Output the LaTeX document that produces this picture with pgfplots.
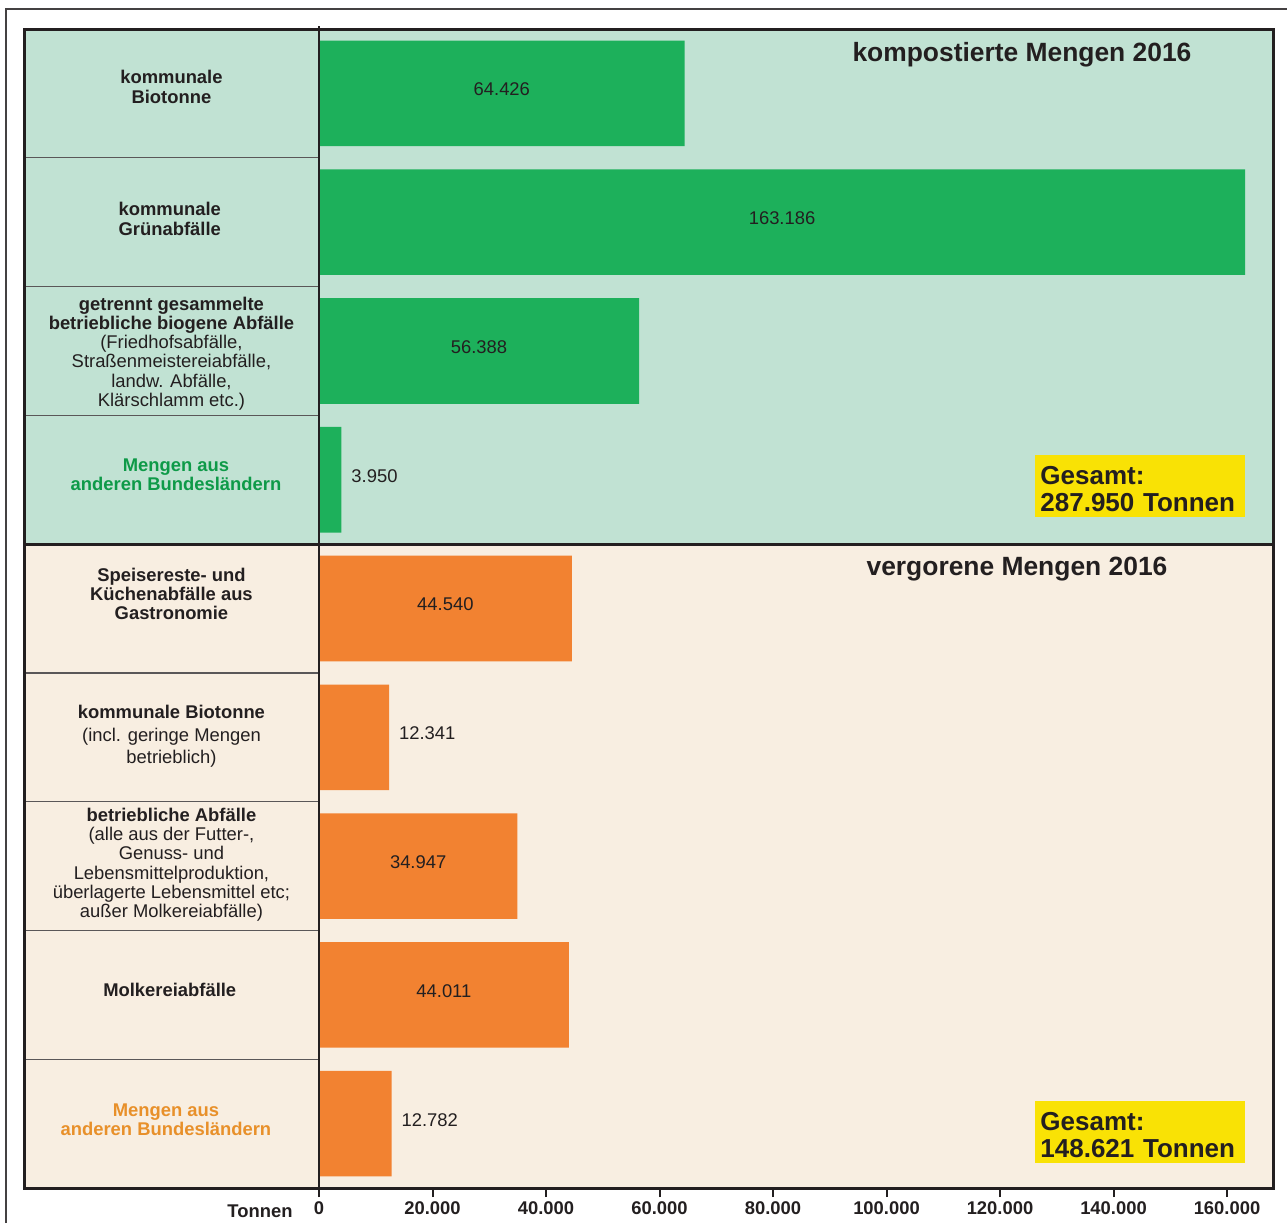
\documentclass[border=0pt]{standalone}
\usepackage{pgfplots}
\pgfplotsset{compat=1.18}
\usepackage{fontspec}
\setmainfont{Liberation Sans}
\definecolor{mint}{HTML}{C1E2D3}
\definecolor{cream}{HTML}{F8EEE1}
\definecolor{barG}{HTML}{1DB05B}
\definecolor{barO}{HTML}{F28231}
\definecolor{gelb}{HTML}{F9E205}
\definecolor{ink}{HTML}{231F20}
\definecolor{txtG}{HTML}{0E9A48}
\definecolor{txtO}{HTML}{E8902A}
\tikzset{
  lab/.style={align=center, font=\fontsize{9.2}{9.6}\selectfont, text=ink},
  val/.style={font=\fontsize{9.2}{11}\selectfont, text=ink},
  tot/.style={fill=gelb, anchor=north west, minimum height=31pt, text width=100pt, text height=11.5pt, inner xsep=2.5pt, inner ysep=2pt, align=left, font=\fontsize{13}{13.5}\selectfont\bfseries, text=ink},
}
\begin{document}
\begin{tikzpicture}
\useasboundingbox (0,0) rectangle (643.5pt,611.5pt);
\fill[white] (0,0) rectangle (643.5pt,611.5pt);
\draw[ink!85, line width=1pt] (3pt,0) -- (3pt,607pt) -- (643.5pt,607pt);
\begin{axis}[
  at={(12.5pt,17.5pt)}, anchor=south west,
  width=624pt, height=579.5pt, scale only axis,
  xmin=-51806, xmax=168104, ymin=-0.5, ymax=8.5, y dir=reverse,
  axis on top, clip=false,
  axis line style={ink, line width=1.5pt},
  ytick=\empty,
  xtick={0,20000,40000,60000,80000,100000,120000,140000,160000},
  xticklabels={0,20.000,40.000,60.000,80.000,100.000,120.000,140.000,160.000},
  xtick pos=bottom, tick align=outside, major tick length=4.5pt,
  every tick/.append style={ink, line width=1pt},
  xticklabel style={font=\fontsize{9.2}{11}\selectfont\bfseries, text=ink, inner sep=1pt, yshift=-1.2pt},
]
\fill[mint] (axis cs:-51806,-0.5) rectangle (axis cs:168104,3.5);
\fill[cream] (axis cs:-51806,3.5) rectangle (axis cs:168104,8.5);
\draw[ink!75, line width=0.6pt] (axis cs:-51806,0.5) -- (axis cs:0,0.5);
\draw[ink!75, line width=0.6pt] (axis cs:-51806,1.5) -- (axis cs:0,1.5);
\draw[ink!75, line width=0.6pt] (axis cs:-51806,2.5) -- (axis cs:0,2.5);
\draw[ink!75, line width=0.6pt] (axis cs:-51806,4.5) -- (axis cs:0,4.5);
\draw[ink!75, line width=0.6pt] (axis cs:-51806,5.5) -- (axis cs:0,5.5);
\draw[ink!75, line width=0.6pt] (axis cs:-51806,6.5) -- (axis cs:0,6.5);
\draw[ink!75, line width=0.6pt] (axis cs:-51806,7.5) -- (axis cs:0,7.5);

\addplot[xbar, fill=barG, draw=none, bar width=0.82] coordinates {(64426,0) (163186,1) (56388,2) (3950,3)};
\addplot[xbar, fill=barO, draw=none, bar width=0.82] coordinates {(44540,4) (12341,5) (34947,6) (44011,7) (12782,8)};

\draw[ink, line width=1.5pt] (axis cs:-51806,3.5) -- (axis cs:168104,3.5);
\draw[ink, line width=1pt] ([yshift=1.5pt]axis cs:0,-0.5) -- (axis cs:0,8.5);

% value labels
\node[val] at (axis cs:32213,-0.03) {64.426};
\node[val] at (axis cs:81593,0.97) {163.186};
\node[val] at (axis cs:28194,1.97) {56.388};
\node[val, anchor=west, xshift=1.5pt] at (axis cs:3950,2.97) {3.950};
\node[val] at (axis cs:22270,3.97) {44.540};
\node[val, anchor=west, xshift=1.5pt] at (axis cs:12341,4.97) {12.341};
\node[val] at (axis cs:17474,5.97) {34.947};
\node[val] at (axis cs:22006,6.97) {44.011};
\node[val, anchor=west, xshift=1.5pt] at (axis cs:12782,7.97) {12.782};

% category labels
\node[lab] at (axis cs:-26000,-0.05) {\textbf{kommunale}\\\textbf{Biotonne}};
\node[lab] at (axis cs:-26300,0.975) {\textbf{kommunale}\\\textbf{Grünabfälle}};
\node[lab] at (axis cs:-26000,2.02) {\textbf{getrennt gesammelte}\\\textbf{betriebliche biogene Abfälle}\\(Friedhofsabfälle,\\Straßenmeistereiabfälle,\\landw. Abfälle,\\Klärschlamm etc.)};
\node[lab, text=txtG] at (axis cs:-25198,2.96) {\textbf{Mengen aus}\\\textbf{anderen Bundesländern}};
\node[lab] at (axis cs:-26000,3.887) {\textbf{Speisereste- und}\\\textbf{Küchenabfälle aus}\\\textbf{Gastronomie}};
\node[lab] at (axis cs:-26000,4.99) {\textbf{kommunale Biotonne}\\[2pt](incl. geringe Mengen\\[1.5pt]betrieblich)};
\node[lab] at (axis cs:-26000,5.99) {\textbf{betriebliche Abfälle}\\(alle aus der Futter-,\\Genuss- und\\Lebensmittelproduktion,\\überlagerte Lebensmittel etc;\\außer Molkereiabfälle)};
\node[lab] at (axis cs:-26300,6.96) {\textbf{Molkereiabfälle}};
\node[lab, text=txtO] at (axis cs:-26975,7.97) {\textbf{Mengen aus}\\\textbf{anderen Bundesländern}};

% titles
\node[font=\fontsize{13.2}{15}\selectfont\bfseries, text=ink] at (axis cs:123876,-0.30) {kompostierte Mengen 2016};
\node[font=\fontsize{13.2}{15}\selectfont\bfseries, text=ink] at (axis cs:122995,3.69) {vergorene Mengen 2016};

% totals
\node[tot] at (axis cs:126166,2.807) {Gesamt:\\287.950 Tonnen};
\node[tot] at (axis cs:126166,7.823) {Gesamt:\\148.621 Tonnen};

\node[font=\fontsize{9.2}{11}\selectfont\bfseries, text=ink, inner sep=1pt] at (axis cs:-10396,8.68) {Tonnen};
\end{axis}
\end{tikzpicture}
\end{document}
